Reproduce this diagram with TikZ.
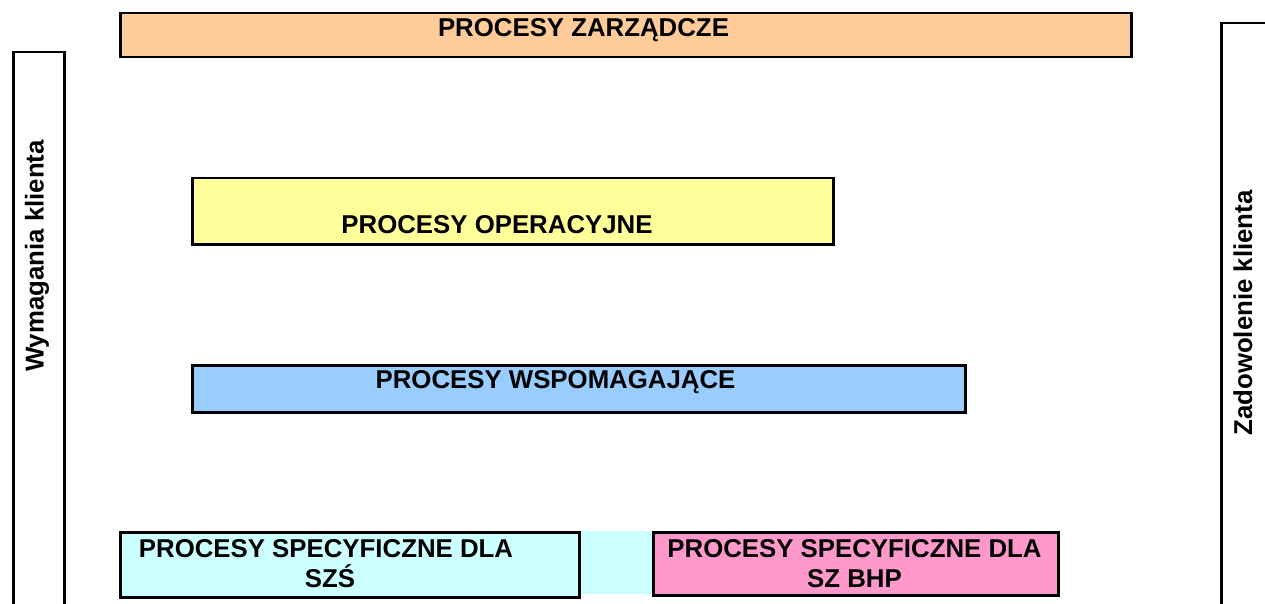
\documentclass[tikz,border=0pt]{standalone}
\usepackage{fontspec}
\setmainfont{Liberation Sans}
\begin{document}
\begin{tikzpicture}[x=1pt,y=-1pt,
  box/.style={draw=black, line width=2.5pt, inner sep=0pt, anchor=north west},
  lbl/.style={font=\fontsize{25.8}{30}\selectfont\bfseries, inner sep=0pt, align=center},
]
\definecolor{czarz}{HTML}{FFCC99}
\definecolor{coper}{HTML}{FFFF99}
\definecolor{cwsp}{HTML}{99CCFF}
\definecolor{cszs}{HTML}{CCFFFF}
\definecolor{cbhp}{HTML}{FF99CC}
\useasboundingbox (0,0) rectangle (1265,604);
\clip (0,0) rectangle (1265,604);
% tall side boxes
\node[box, minimum width=51pt, minimum height=600pt] (wym) at (12,51) {};
\node[box, minimum width=80pt, minimum height=640pt] (zad) at (1220,22) {};
% process boxes
\node[box, fill=czarz, minimum width=1011pt, minimum height=44pt] (zarz) at (119,12) {};
\node[box, fill=coper, minimum width=641pt, minimum height=66pt] (oper) at (191,177) {};
\node[box, fill=cwsp, minimum width=773pt, minimum height=47pt] (wsp) at (191,364) {};
\fill[cszs] (578,531) rectangle (652,594);
\node[box, fill=cszs, minimum width=459pt, minimum height=65pt] (szs) at (119,531) {};
\node[box, fill=cbhp, minimum width=405pt, minimum height=63pt] (bhp) at (652,531) {};
% labels
\node[lbl] (tzarz) at (583.5,30) {PROCESY ZARZĄDCZE};
\node[lbl] (toper) at (497,224.5) {PROCESY OPERACYJNE};
\node[lbl] (twsp) at (555.5,382) {PROCESY WSPOMAGAJĄCE};
\node[lbl, anchor=north] (tszs) at (326,539) {PROCESY SPECYFICZNE DLA\\\hspace*{8pt}SZŚ};
\node[lbl, anchor=north] (tbhp) at (854.5,539) {PROCESY SPECYFICZNE DLA\\SZ BHP};
\node[lbl, rotate=90] (twym) at (37,256) {Wymagania klienta};
\node[lbl, rotate=90] (tzad) at (1243,313) {Zadowolenie klienta};
\end{tikzpicture}
\end{document}
